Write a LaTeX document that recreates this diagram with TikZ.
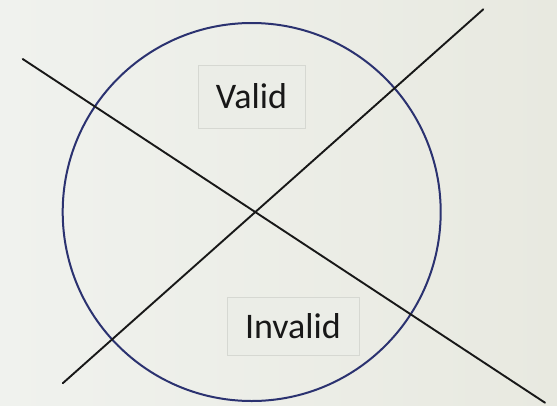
\documentclass[tikz,border=0pt]{standalone}
\usepackage{fontspec}
\setmainfont{Carlito}
\usepackage{xcolor}
\usepackage{tikz}
\usetikzlibrary{positioning,shapes.geometric,calc}
\definecolor{paper}{HTML}{E8E9E0}
\definecolor{paperlight}{HTML}{F0F2EE}
\definecolor{ringblue}{HTML}{2B3270}
\definecolor{ink}{HTML}{181818}
\definecolor{boxedge}{HTML}{D6D8D2}
\definecolor{boxfill}{HTML}{EBEDE7}

\begin{document}
\begin{tikzpicture}[
  x=1pt,y=-1pt,
  font=\fontsize{36}{40}\selectfont,
  ring/.style={circle,draw=ringblue,line width=2pt,minimum size=378pt,inner sep=0pt},
  cut/.style={ink,line width=1.9pt,line cap=round},
  tag/.style={draw=boxedge,fill=boxfill,line width=0.8pt,inner sep=0pt,text=ink}
]
% background and page size
\shade[left color=paperlight,right color=paper] (0,0) rectangle (557,405);
\useasboundingbox (0,0) rectangle (557,405);

\node[ring] (ring) at (251.7,212) {};

% the two crossing lines
\coordinate (d1a) at (22.7,59);
\coordinate (d1b) at (545,402.7);
\coordinate (d2a) at (62.7,383.3);
\coordinate (d2b) at (483.3,9.3);
\draw[cut] (d1a) -- (d1b);
\draw[cut] (d2a) -- (d2b);

% labels
\node[tag,minimum width=107pt,minimum height=63pt] (valid) at (251.5,96.5) {Valid};
\node[tag,minimum width=132pt,minimum height=58pt] (invalid) at (293,326) {Invalid};
\end{tikzpicture}
\end{document}
